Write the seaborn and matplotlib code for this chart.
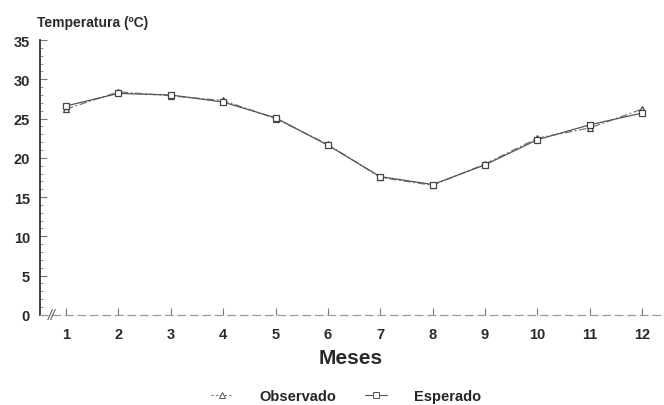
import matplotlib
matplotlib.use("Agg")
import matplotlib.pyplot as plt
import pandas as pd
import seaborn as sns
from matplotlib.lines import Line2D
from matplotlib.ticker import MultipleLocator

# dados
meses = list(range(1, 13))
observado = [26.2, 28.4, 27.9, 27.3, 25.0, 21.7, 17.5, 16.5, 19.2, 22.5, 23.8, 26.2]
esperado = [26.6, 28.2, 28.0, 27.1, 25.1, 21.6, 17.6, 16.6, 19.1, 22.3, 24.2, 25.7]
series = ["Observado", "Esperado"]

df = pd.DataFrame(
    {
        "mes": meses * 2,
        "temp": observado + esperado,
        "serie": ["Observado"] * 12 + ["Esperado"] * 12,
    }
)

sns.set_style("white")
plt.rcParams["font.family"] = ["Liberation Sans", "DejaVu Sans"]

fig = plt.figure(figsize=(6.64, 4.06), dpi=100)
ax = fig.add_axes([0.060, 0.222, 0.937, 0.677])

cores = {"Observado": "#777777", "Esperado": "#555555"}
marcadores = {"Observado": "^", "Esperado": "s"}
tracos = {"Observado": (6, 2, 1.5, 2), "Esperado": ""}

sns.lineplot(
    data=df,
    x="mes",
    y="temp",
    hue="serie",
    style="serie",
    hue_order=series,
    style_order=series,
    palette=cores,
    markers=marcadores,
    dashes=tracos,
    markersize=5,
    linewidth=0.9,
    legend=False,
    ax=ax,
)

for line in ax.lines:
    line.set_markerfacecolor("white")
    line.set_markeredgecolor("#444444")
    line.set_markeredgewidth(0.9)

ax.set_xlim(0.5, 12.38)
ax.set_ylim(0, 35)
ax.set_xticks(meses)
ax.yaxis.set_major_locator(MultipleLocator(5))
ax.yaxis.set_minor_locator(MultipleLocator(1))

for s in ["top", "right"]:
    ax.spines[s].set_visible(False)
ax.spines["left"].set_color("#333333")
ax.spines["left"].set_linewidth(1.3)
ax.spines["bottom"].set_color("#9a9a9a")
ax.spines["bottom"].set_linewidth(0.9)
ax.spines["bottom"].set_linestyle((0, (6, 4)))

ax.tick_params(axis="y", which="major", direction="in", length=5, width=0.8,
               color="#777777", labelsize=10.5, pad=7, left=True)
ax.tick_params(axis="y", which="minor", direction="in", length=2, width=0.6,
               color="#888888", left=True)
ax.tick_params(axis="x", direction="in", length=5, width=0.8, color="#777777",
               labelsize=10.5, pad=9, bottom=True)
for lab in ax.get_xticklabels() + ax.get_yticklabels():
    lab.set_fontweight("bold")
    lab.set_color("#2a2a2a")

# marca de quebra do eixo
ax.text(0.72, 0, "//", fontsize=10, color="#555555", ha="center", va="center",
        fontstyle="italic")

ax.set_xlabel("Meses", fontsize=15, color="#2a2a2a", labelpad=5, fontweight="bold")
ax.set_ylabel("")
fig.text(0.055, 0.943, "Temperatura (ºC)", fontsize=10, color="#2a2a2a",
         ha="left", va="center", fontweight="bold")

handles = [
    Line2D([], [], color=cores[s], linestyle=(0, (2, 2)) if s == "Observado" else "-",
           linewidth=0.8, marker=marcadores[s], markersize=4,
           markerfacecolor="white", markeredgecolor="#555555", markeredgewidth=0.7)
    for s in series
]
fig.legend(handles, series, loc="center", bbox_to_anchor=(0.521, 0.022), ncol=2,
           frameon=False, handlelength=1.5, columnspacing=2.0, handletextpad=1.8,
           prop={"size": 10.5, "weight": "bold"})

fig.savefig("out.png", dpi=100)
